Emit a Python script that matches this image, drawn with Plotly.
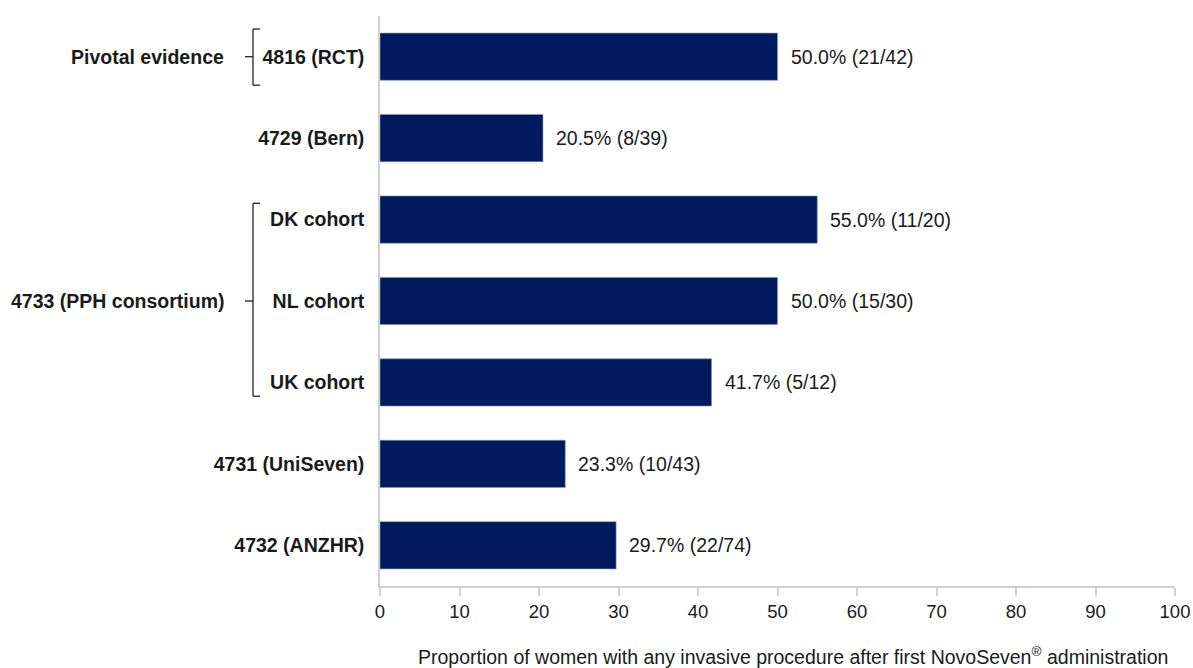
import plotly.graph_objects as go

# Study rows, top to bottom
categories = ["4816 (RCT)", "4729 (Bern)", "DK cohort", "NL cohort", "UK cohort",
              "4731 (UniSeven)", "4732 (ANZHR)"]
percent = [50.0, 20.5, 55.0, 50.0, 41.7, 23.3, 29.7]
counts = ["21/42", "8/39", "11/20", "15/30", "5/12", "10/43", "22/74"]
x_ticks = [0, 10, 20, 30, 40, 50, 60, 70, 80, 90, 100]

# Bracketed groupings: (label, first row edge, last row edge, row of the label)
groups = [("Pivotal evidence", -0.34, 0.35, 0),
          ("4733 (PPH consortium)", 1.80, 4.17, 3)]

FONT = "Liberation Sans, Arial, sans-serif"
TEXT = "#1a1a1a"
BAR = "#001a5e"
AXIS = "#d0d0d0"
FS = 19.5

W, H = 1193, 668
ML, MR, MT, MB = 380, 18, 16, 82
PW = W - ML - MR

rows = list(range(len(categories)))

fig = go.Figure(go.Bar(
    x=percent, y=rows, orientation="h",
    marker=dict(color=BAR, line=dict(color="#8a93b5", width=0.6)),
    width=0.58, hoverinfo="skip",
))

# value labels to the right of each bar
for r, v, c in zip(rows, percent, counts):
    fig.add_annotation(x=v, y=r, xref="x", yref="y", text=f"{v:.1f}% ({c})",
                       showarrow=False, xanchor="left", xshift=11,
                       font=dict(family=FONT, size=FS, color=TEXT))

def px_to_paper(px):
    return (px - ML) / PW

# group brackets and their labels
line = dict(color="#333333", width=1.4)
bx = px_to_paper(253)
serif = px_to_paper(260)
nub = px_to_paper(245)
for label, y0, y1, ymid in groups:
    fig.add_shape(type="line", xref="paper", yref="y", x0=bx, x1=bx, y0=y0, y1=y1, line=line)
    fig.add_shape(type="line", xref="paper", yref="y", x0=bx, x1=serif, y0=y0, y1=y0, line=line)
    fig.add_shape(type="line", xref="paper", yref="y", x0=bx, x1=serif, y0=y1, y1=y1, line=line)
    fig.add_shape(type="line", xref="paper", yref="y", x0=nub, x1=bx, y0=ymid, y1=ymid, line=line)
    fig.add_annotation(x=px_to_paper(226), y=ymid, xref="paper", yref="y", text=f"<b>{label}</b>",
                       showarrow=False, xanchor="right",
                       font=dict(family=FONT, size=FS, color=TEXT))

# axis title
fig.add_annotation(x=px_to_paper(793), y=-(656 - (H - MB)) / (H - MT - MB),
                   xref="paper", yref="paper", yanchor="middle",
                   text="Proportion of women with any invasive procedure after first NovoSeven<sup>®</sup> administration",
                   showarrow=False, font=dict(family=FONT, size=FS, color=TEXT))

fig.update_layout(
    width=W, height=H,
    margin=dict(l=ML, r=MR, t=MT, b=MB),
    paper_bgcolor="white", plot_bgcolor="white",
    showlegend=False,
    font=dict(family=FONT, size=FS, color=TEXT),
    xaxis=dict(range=[0, 100], tickvals=x_ticks, ticks="outside", ticklen=8,
               tickcolor=AXIS, tickwidth=1.5, showline=True, linecolor=AXIS, linewidth=1.5,
               showgrid=False, zeroline=False, fixedrange=True, automargin=False,
               tickfont=dict(family=FONT, size=18.5, color=TEXT)),
    yaxis=dict(range=[6.5, -0.5], tickvals=rows, ticktext=[f"<b>{c}</b>" for c in categories],
               showline=True, linecolor=AXIS, linewidth=1.5, ticks="", ticklabelstandoff=10,
               showgrid=False, zeroline=False, fixedrange=True, automargin=False,
               tickfont=dict(family=FONT, size=FS, color=TEXT)),
)

fig.write_html("out.html", config={"displayModeBar": False})
